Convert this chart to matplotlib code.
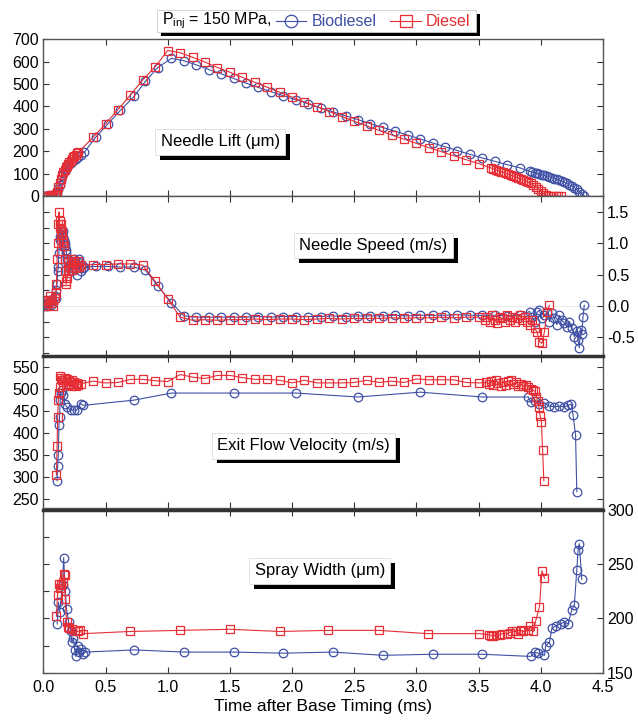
import numpy as np
import matplotlib
matplotlib.use('Agg')
import matplotlib.pyplot as plt
import matplotlib.patheffects as pe
from matplotlib.patches import Rectangle
from matplotlib.lines import Line2D
from matplotlib.ticker import MultipleLocator, FormatStrFormatter

plt.rcParams['font.family'] = ['Liberation Sans', 'DejaVu Sans']
plt.rcParams['axes.unicode_minus'] = False

BLUE = '#3f50a5'
RED = '#e62e36'

# ---- Needle lift (um) ----
lift_t_die = [0.00, 0.01, 0.02, 0.03, 0.04, 0.05, 0.06, 0.07, 0.08, 0.09, 0.10, 0.11, 0.12, 0.13, 0.14,
              0.15, 0.16, 0.17, 0.18, 0.19, 0.20, 0.21, 0.22, 0.23, 0.24, 0.25, 0.26, 0.27, 0.28,
              0.40, 0.50, 0.60, 0.70, 0.80, 0.90, 1.00,
              1.10, 1.20, 1.30, 1.40, 1.50, 1.60, 1.70, 1.80, 1.90, 2.00, 2.10, 2.20, 2.30, 2.40, 2.50,
              2.60, 2.70, 2.80, 2.90, 3.00, 3.10, 3.20, 3.30, 3.40, 3.50,
              3.60, 3.62, 3.64, 3.66, 3.68, 3.70, 3.72, 3.74, 3.76, 3.78, 3.80, 3.82, 3.84, 3.86, 3.88,
              3.90, 3.92, 3.94, 3.96, 3.98, 4.00, 4.02, 4.04, 4.06, 4.08, 4.10, 4.12, 4.14, 4.16]
lift_die = [0, 0, 0, 1, 2, 2, 3, 3, 4, 5, 8, 20, 40, 60, 78,
            95, 108, 118, 128, 135, 142, 150, 158, 166, 172, 178, 184, 190, 195,
            262, 322, 386, 452, 519, 578, 650,
            640, 620, 598, 574, 553, 530, 508, 486, 463, 442, 420, 399, 377, 355, 334,
            313, 293, 273, 254, 235, 216, 198, 180, 162, 145,
            125, 121, 117, 113, 109, 105, 101, 97, 93, 89, 85, 81, 77, 72, 67,
            62, 56, 49, 41, 32, 22, 12, 4, 1, 0, 0, 0, 0, 0]

lift_t_bio = [0.00, 0.02, 0.04, 0.06, 0.08, 0.10, 0.11, 0.12, 0.13, 0.14, 0.15, 0.16, 0.17, 0.18, 0.19,
              0.20, 0.22, 0.24, 0.26, 0.28, 0.30, 0.33,
              0.42, 0.52, 0.62, 0.73, 0.82, 0.92, 1.03,
              1.13, 1.23, 1.33, 1.43, 1.53, 1.63, 1.73, 1.83, 1.93, 2.03, 2.13, 2.23, 2.33, 2.43,
              2.53, 2.63, 2.73, 2.83, 2.93, 3.03, 3.13, 3.23, 3.33, 3.43, 3.53, 3.63, 3.73, 3.83,
              3.91, 3.93, 3.95, 3.97, 3.99, 4.01, 4.03, 4.05, 4.07, 4.09, 4.11, 4.13, 4.15, 4.17,
              4.19, 4.21, 4.23, 4.25, 4.27, 4.29, 4.31, 4.33, 4.35]
lift_bio = [0, 0, 0, 0, 2, 5, 15, 30, 50, 70, 88, 102, 113, 122, 130,
            137, 148, 158, 167, 176, 184, 196,
            262, 323, 383, 445, 512, 574, 615,
            604, 586, 565, 546, 525, 504, 485, 466, 448, 430, 412, 393, 376, 358,
            341, 323, 306, 289, 272, 255, 237, 220, 203, 186, 170, 155, 140, 126,
            110, 107, 104, 101, 98, 95, 92, 89, 86, 82, 78, 74, 70, 66,
            61, 56, 50, 44, 37, 29, 19, 9, 0]

# ---- Needle speed (m/s) ----
spd_t_die = [0.00, 0.01, 0.02, 0.03, 0.04, 0.05, 0.06, 0.07, 0.08, 0.09, 0.10,
             0.105, 0.11, 0.115, 0.12, 0.125, 0.13, 0.135, 0.14, 0.145, 0.15,
             0.155, 0.16, 0.165, 0.17, 0.175, 0.18, 0.185, 0.19, 0.195, 0.20,
             0.21, 0.22, 0.23, 0.24, 0.25, 0.26, 0.27, 0.28, 0.29, 0.30,
             0.40, 0.50, 0.60, 0.70, 0.80, 0.90, 1.00, 1.10, 1.20,
             1.30, 1.40, 1.50, 1.60, 1.70, 1.80, 1.90, 2.00, 2.10, 2.20, 2.30, 2.40,
             2.50, 2.60, 2.70, 2.80, 2.90, 3.00, 3.10, 3.20, 3.30, 3.40, 3.50,
             3.55, 3.57, 3.59, 3.61, 3.63, 3.65, 3.67, 3.69, 3.71, 3.73, 3.75, 3.77, 3.79, 3.81,
             3.83, 3.85, 3.87, 3.89, 3.91, 3.93, 3.95, 3.97, 3.99, 4.01, 4.03, 4.05, 4.07]
spd_die = [0.00, 0.08, 0.00, 0.10, 0.05, 0.15, 0.05, 0.10, 0.00, 0.12, 0.20,
           0.35, 0.75, 1.00, 1.30, 1.50, 1.35, 1.25, 1.30, 1.15, 1.20,
           1.05, 1.00, 0.95, 0.75, 0.55, 0.40, 0.35, 0.45, 0.55, 0.70,
           0.62, 0.75, 0.58, 0.68, 0.72, 0.60, 0.65, 0.72, 0.62, 0.65,
           0.66, 0.66, 0.67, 0.67, 0.65, 0.39, 0.11, -0.18, -0.23,
           -0.22, -0.23, -0.22, -0.22, -0.21, -0.22, -0.21, -0.21, -0.22, -0.21, -0.20, -0.21,
           -0.20, -0.20, -0.20, -0.19, -0.20, -0.19, -0.19, -0.18, -0.19, -0.18, -0.18,
           -0.22, -0.18, -0.25, -0.15, -0.22, -0.28, -0.18, -0.20, -0.25, -0.15, -0.22, -0.18, -0.26, -0.20,
           -0.15, -0.22, -0.18, -0.25, -0.30, -0.22, -0.35, -0.42, -0.57, -0.60, -0.41, -0.09, 0.01]

spd_t_bio = [0.00, 0.01, 0.02, 0.03, 0.04, 0.05, 0.06, 0.07, 0.08, 0.09, 0.10,
             0.105, 0.11, 0.115, 0.12, 0.125, 0.13, 0.135, 0.14, 0.145, 0.15,
             0.155, 0.16, 0.165, 0.17, 0.175, 0.18, 0.185, 0.19, 0.195, 0.20,
             0.21, 0.22, 0.23, 0.24, 0.25, 0.26, 0.27, 0.28, 0.29, 0.30, 0.31, 0.32, 0.33,
             0.42, 0.52, 0.62, 0.73, 0.82, 0.92, 1.03, 1.13, 1.23,
             1.33, 1.43, 1.53, 1.63, 1.73, 1.83, 1.93, 2.03, 2.13, 2.23, 2.33, 2.43, 2.53,
             2.63, 2.73, 2.83, 2.93, 3.03, 3.13, 3.23, 3.33, 3.43, 3.53, 3.63, 3.73, 3.83,
             3.91, 3.93, 3.95, 3.97, 3.99, 4.01, 4.03, 4.05, 4.07, 4.09, 4.11, 4.13, 4.15,
             4.17, 4.19, 4.21, 4.23, 4.25, 4.27, 4.29, 4.30, 4.31, 4.32, 4.33, 4.34, 4.35]
spd_bio = [0.00, 0.03, 0.08, 0.00, 0.05, 0.10, 0.02, 0.08, 0.05, 0.15, 0.12,
           0.25, 0.35, 0.55, 0.62, 0.85, 1.05, 1.10, 1.15, 1.22, 1.15,
           1.10, 1.20, 1.05, 1.00, 0.95, 0.90, 0.85, 0.75, 0.72, 0.65,
           0.60, 0.55, 0.70, 0.65, 0.75, 0.60, 0.50, 0.70, 0.75, 0.55, 0.65, 0.60, 0.62,
           0.63, 0.63, 0.62, 0.62, 0.57, 0.32, 0.05, -0.16, -0.18,
           -0.18, -0.18, -0.18, -0.18, -0.17, -0.18, -0.17, -0.17, -0.17, -0.17, -0.16, -0.17, -0.16,
           -0.16, -0.16, -0.15, -0.16, -0.15, -0.15, -0.15, -0.14, -0.15, -0.15, -0.15, -0.16, -0.15,
           -0.09, -0.17, -0.25, -0.10, -0.07, -0.20, -0.15, -0.10, -0.25, -0.12, -0.20, -0.30, -0.15,
           -0.23, -0.28, -0.33, -0.25, -0.35, -0.49, -0.40, -0.55, -0.67, -0.38, -0.45, -0.17, 0.01]

# ---- Exit flow velocity (m/s) ----
vel_t_die = [0.105, 0.11, 0.115, 0.12, 0.125, 0.13, 0.135, 0.14, 0.15, 0.16, 0.17, 0.18, 0.19, 0.20,
             0.21, 0.22, 0.23, 0.24, 0.25, 0.26, 0.27, 0.28, 0.30,
             0.40, 0.50, 0.60, 0.70, 0.80, 0.90, 1.00, 1.10, 1.20, 1.30, 1.40, 1.50, 1.60, 1.70, 1.80, 1.90,
             2.00, 2.10, 2.20, 2.30, 2.40, 2.50, 2.60, 2.70, 2.80, 2.90, 3.00, 3.10, 3.20, 3.30, 3.40, 3.50,
             3.56, 3.58, 3.60, 3.62, 3.64, 3.66, 3.68, 3.70, 3.72, 3.74, 3.76, 3.78, 3.80, 3.82, 3.84,
             3.86, 3.88, 3.90, 3.92, 3.94,
             3.955, 3.965, 3.975, 3.985, 3.995, 4.005, 4.015, 4.025]
vel_die = [305, 370, 437, 475, 490, 505, 529, 525, 520, 515, 525, 512, 522, 510,
           518, 508, 520, 512, 516, 508, 514, 510, 512,
           518, 514, 515, 522, 522, 519, 517, 533, 527, 524, 531, 531, 526, 522, 522, 520,
           514, 520, 514, 514, 514, 515, 520, 515, 518, 515, 523, 521, 521, 521, 515, 514,
           515, 512, 518, 510, 520, 514, 508, 516, 510, 518, 520, 512, 516, 508, 512,
           506, 510, 505, 500, 497,
           495, 483, 472, 460, 440, 426, 362, 292]

vel_t_bio = [0.11, 0.115, 0.12, 0.125, 0.13, 0.135, 0.14, 0.15, 0.16, 0.17, 0.19, 0.22, 0.25, 0.27,
             0.30, 0.32,
             0.73, 1.03, 1.53, 2.03, 2.53, 3.03, 3.53,
             3.90, 3.92, 3.95, 3.99, 4.03, 4.07, 4.11, 4.15, 4.19, 4.22, 4.245, 4.26, 4.28, 4.29]
vel_bio = [292, 325, 351, 418, 437, 475, 490, 497, 486, 467, 459, 452, 452, 453,
           467, 463,
           475, 491, 491, 491, 482, 493, 482,
           482, 470, 474, 467, 469, 461, 460, 461, 460, 463, 466, 441, 396, 267]

# ---- Spray width (um) ----
wid_t_die = [0.105, 0.114, 0.124, 0.137, 0.144, 0.154, 0.163, 0.17, 0.176, 0.186, 0.196, 0.209,
             0.229, 0.252, 0.275, 0.294, 0.317,
             0.70, 1.10, 1.50, 1.90, 2.29, 2.70, 3.09, 3.50,
             3.585, 3.60, 3.62, 3.64, 3.67, 3.69, 3.73, 3.75, 3.77, 3.80, 3.82, 3.84, 3.86, 3.90,
             3.91, 3.94, 3.96, 3.99, 4.01, 4.03]
wid_die = [202, 222, 232, 228, 231, 234, 241, 240, 218, 197, 192, 191,
           190, 188, 188, 189, 186,
           188, 189, 190, 188, 189, 189, 186, 186,
           185, 184, 184, 185, 185, 186, 186, 187, 188, 188, 186, 189, 188, 189,
           193, 188, 198, 211, 244, 237]

wid_t_bio = [0.111, 0.121, 0.131, 0.154, 0.163, 0.176, 0.186, 0.203, 0.219, 0.229, 0.242, 0.252,
             0.261, 0.275, 0.288, 0.301, 0.317, 0.333,
             0.73, 1.13, 1.53, 1.93, 2.33, 2.73, 3.13, 3.53,
             3.92, 3.95, 3.98, 4.03, 4.04, 4.07, 4.09, 4.12, 4.16, 4.19, 4.22, 4.25, 4.27,
             4.29, 4.30, 4.31, 4.33]
wid_bio = [195, 215, 206, 231, 256, 225, 209, 197, 188, 178, 182, 171,
           165, 175, 169, 172, 167, 169,
           171, 169, 169, 168, 169, 166, 167, 167,
           165, 169, 168, 166, 175, 178, 191, 193, 195, 197, 195, 208, 212,
           245, 263, 269, 236]

panel_labels = ['Needle Lift (\u03bcm)', 'Needle Speed (m/s)',
                'Exit Flow Velocity (m/s)', 'Spray Width (\u03bcm)']


def draw(ax, t_bio, y_bio, t_die, y_die):
    ax.plot(t_bio, y_bio, color=BLUE, lw=0.8, marker='o', ms=6.2, mfc='none', mec=BLUE, mew=0.9)
    ax.plot(t_die, y_die, color=RED, lw=0.8, marker='s', ms=5.8, mfc='none', mec=RED, mew=0.9)


def shadow_box(ax, x, y, text):
    t = ax.text(x, y, text, transform=ax.transAxes, ha='center', va='center', fontsize=12,
                bbox=dict(boxstyle='square,pad=0.32', fc='white', ec='#dddddd', lw=0.6), zorder=5)
    t.get_bbox_patch().set_path_effects([
        pe.SimplePatchShadow(offset=(3.5, -3.5), shadow_rgbFace='black', alpha=1.0), pe.Normal()])


fig = plt.figure(figsize=(6.38, 7.2), dpi=100)
L, Wd = 0.068, 0.877
ax1 = fig.add_axes([L, 0.7278, Wd, 0.2176])
ax2 = fig.add_axes([L, 0.5056, Wd, 0.2222])
ax3 = fig.add_axes([L, 0.2944, Wd, 0.2111])
ax4 = fig.add_axes([L, 0.0657, Wd, 0.2260])
axes = [ax1, ax2, ax3, ax4]

draw(ax1, lift_t_bio, lift_bio, lift_t_die, lift_die)
draw(ax2, spd_t_bio, spd_bio, spd_t_die, spd_die)
draw(ax3, vel_t_bio, vel_bio, vel_t_die, vel_die)
draw(ax4, wid_t_bio, wid_bio, wid_t_die, wid_die)
ax2.axhline(0, color='#e6e6e6', lw=0.6, zorder=0)

ax1.set_ylim(0, 700)
ax2.set_ylim(-0.80, 1.755)
ax3.set_ylim(230, 575)
ax4.set_ylim(150, 300)

for ax in axes:
    ax.set_xlim(0, 4.5)
    ax.xaxis.set_major_locator(MultipleLocator(0.5))
    ax.xaxis.set_major_formatter(FormatStrFormatter('%.1f'))
    ax.tick_params(axis='both', which='both', direction='in', top=True, bottom=True,
                   labelsize=11.5, length=4, width=0.8, color='#333333', pad=3)
    ax.tick_params(axis='x', labelbottom=False)
    for s in ax.spines.values():
        s.set_color('#555555')
        s.set_linewidth(1.0)
ax4.tick_params(axis='x', labelbottom=True, pad=5)
ax3.spines['top'].set_linewidth(2.5)
ax3.spines['top'].set_color('#333333')
ax4.spines['top'].set_linewidth(2.5)
ax4.spines['top'].set_color('#333333')

ax1.yaxis.set_major_locator(MultipleLocator(100))
ax1.tick_params(axis='y', left=True, right=True, labelleft=True, labelright=False)

ax2.yaxis.set_major_locator(MultipleLocator(0.5))
ax2.yaxis.set_minor_locator(MultipleLocator(0.25))
ax2.yaxis.set_major_formatter(FormatStrFormatter('%.1f'))
ax2.tick_params(axis='y', which='both', left=True, right=True, labelleft=False, labelright=True)
ax2.tick_params(axis='y', which='minor', right=False)

ax3.yaxis.set_major_locator(MultipleLocator(50))
ax3.tick_params(axis='y', left=True, right=True, labelleft=True, labelright=False)

ax4.yaxis.set_major_locator(MultipleLocator(50))
ax4.yaxis.set_minor_locator(MultipleLocator(25))
ax4.tick_params(axis='y', which='both', left=True, right=True, labelleft=False, labelright=True)
ax4.tick_params(axis='y', which='minor', right=False)

ax4.set_xlabel('Time after Base Timing (ms)', fontsize=12.5, labelpad=3)

shadow_box(ax1, 0.316, 0.345, panel_labels[0])
shadow_box(ax2, 0.590, 0.690, panel_labels[1])
shadow_box(ax3, 0.465, 0.410, panel_labels[2])
shadow_box(ax4, 0.494, 0.625, panel_labels[3])

# legend box at the top
W, H = 638.0, 720.0
box = Rectangle((157 / W, 1 - 32 / H), (476 - 157) / W, 22 / H, transform=fig.transFigure,
                fc='white', ec='#cccccc', lw=0.6, zorder=5)
box.set_path_effects([pe.SimplePatchShadow(offset=(3, -3), shadow_rgbFace='black', alpha=1.0), pe.Normal()])
fig.add_artist(box)
ly = 1 - 21 / H
fig.text(162 / W, ly, r'P$_{\mathregular{inj}}$ = 150 MPa,', fontsize=11.5, va='center', zorder=6)
fig.add_artist(Line2D([276 / W, 291 / W, 306 / W], [ly, ly, ly], transform=fig.transFigure, color=BLUE,
                      lw=0.8, marker='o', markevery=[1], ms=9, mfc='none', mec=BLUE, mew=0.9, zorder=6))
fig.text(312 / W, ly, 'Biodiesel', fontsize=11.5, color=BLUE, va='center', zorder=6)
fig.add_artist(Line2D([390 / W, 406 / W, 421 / W], [ly, ly, ly], transform=fig.transFigure, color=RED,
                      lw=0.8, marker='s', markevery=[1], ms=9, mfc='none', mec=RED, mew=0.9, zorder=6))
fig.text(426 / W, ly, 'Diesel', fontsize=11.5, color=RED, va='center', zorder=6)

fig.savefig('out.png', dpi=100)
